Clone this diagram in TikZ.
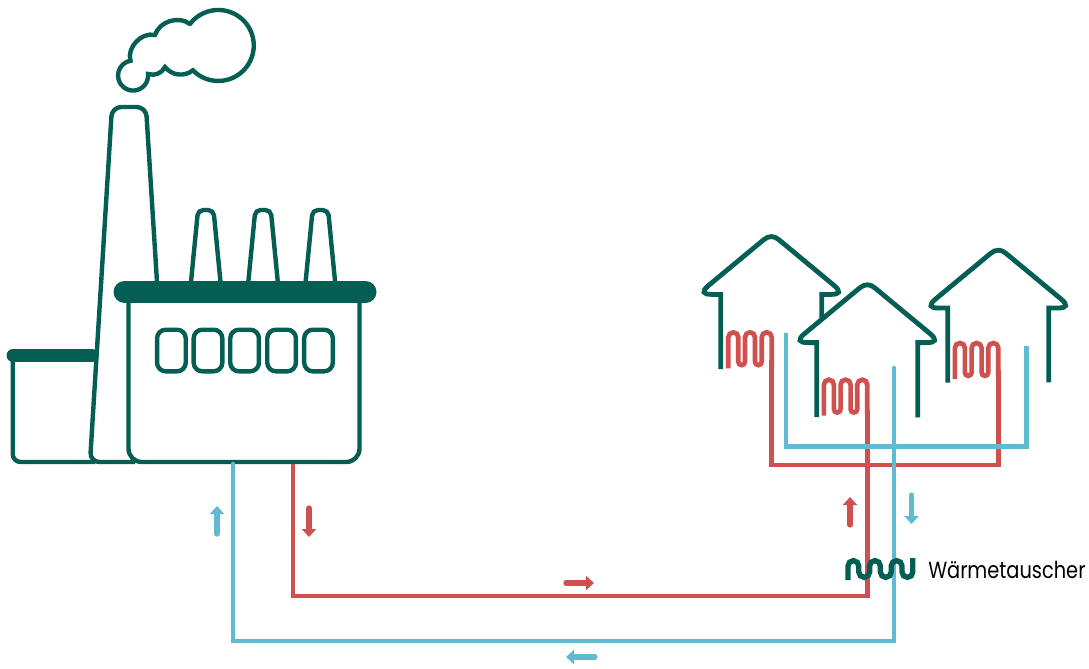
\documentclass[tikz,border=0pt]{standalone}
\usepackage{fontspec}
\usepackage{tikz}
\usetikzlibrary{arrows.meta}
\setmainfont{Poppins}[FakeStretch=0.83]
\definecolor{plantgreen}{HTML}{045E54}
\definecolor{hotred}{HTML}{D04F4F}
\definecolor{coldblue}{HTML}{5FBAD2}
\tikzset{
    outline/.style={draw=plantgreen, line width=3.3pt},
    hotpipe/.style={draw=hotred, line width=3.5pt},
    coldpipe/.style={draw=coldblue, line width=3.5pt},
    flow/.style={line width=3.9pt, line cap=round, -{Triangle[width=10.5pt,length=6pt]}},
}
\begin{document}
\begin{tikzpicture}[x=0.75pt, y=-0.75pt]
    \useasboundingbox (0,0) rectangle (1089,668);
    % Smoke
    \draw[outline, line cap=round] (190,24) arc[start angle=-142.8, end angle=135.6, radius=35.5]
        to[bend left=45] (165,67) to[bend left=40] (148,74)
        arc[start angle=-6, end angle=260, radius=15]
        to[bend left=60] (155,35) to[bend left=55] (190,24);
    % Tall chimney
    \draw[outline, rounded corners=7pt] (157,282) -- (146,107) -- (112,107) -- (90,462) -- (135,462);
    % Small stacks
    \foreach \dx in {0,57.3,114.6}
        \draw[outline, rounded corners=4pt] (191+\dx,282) -- (198+\dx,210) -- (213.5+\dx,210) -- (220.5+\dx,282);
    % Side hall
    \draw[outline, rounded corners=6pt] (12.7,355) -- (12.7,462) -- (95,462);
    \draw[plantgreen, line width=9.75pt, line cap=round] (13,355.5) -- (92,355.5);
    % Main hall
    \draw[outline, rounded corners=10pt] (128.5,292) -- (128.5,462) -- (359.5,462) -- (359.5,292);
    \draw[plantgreen, line width=16.5pt, line cap=round] (124.5,292) -- (365.5,292);
    \foreach \i/\wx in {1/171.4,2/208,3/244.6,4/281.6,5/318.5}
        \node[outline, minimum width=21.5pt, minimum height=31.2pt, rounded corners=6.5pt] (window\i) at (\wx,350.5) {};
    % Houses
    \foreach \hx/\hy/\rb in {771.3/233.4/84.6,867.3/281.6/135.7,998.3/247/135.3}
        \draw[outline, line width=3.6pt] (\hx-50.5,\hy+135.6) -- (\hx-50.5,\hy+61) -- (\hx-59.5,\hy+61)
            .. controls (\hx-68.8,\hy+61) and (\hx-69.9,\hy+58) .. (\hx-62.7,\hy+52) -- (\hx-7.7,\hy+6.4)
            .. controls (\hx-2.6,\hy+2.1) and (\hx+2.6,\hy+2.1) .. (\hx+7.7,\hy+6.4) -- (\hx+62.7,\hy+52)
            .. controls (\hx+69.9,\hy+58) and (\hx+68.8,\hy+61) .. (\hx+59.5,\hy+61) -- (\hx+50.5,\hy+61) -- (\hx+50.5,\hy+\rb);
    % Radiators
    \foreach \rx/\ry in {728.3/368.3,823.9/415.7,954.9/379}
        \draw[hotpipe] (\rx,\ry) -- ++(0,-31) arc[start angle=180, end angle=360, radius=5]
            -- ++(0,24.5) arc[start angle=180, end angle=0, radius=3.35]
            -- ++(0,-24.5) arc[start angle=180, end angle=360, radius=5]
            -- ++(0,24.5) arc[start angle=180, end angle=0, radius=3.35]
            -- ++(0,-24.5) arc[start angle=180, end angle=360, radius=5] -- ++(0,30);
    % Red network
    \draw[hotpipe] (771.7,360) -- (771.7,465) -- (998.3,465) -- (998.3,370);
    \draw[hotpipe] (293,464) -- (293,596) -- (867.3,596) -- (867.3,410);
    % Blue network
    \draw[coldpipe] (786,333) -- (786,446.7) -- (1026.7,446.7) -- (1026.7,345.7);
    \draw[coldpipe, line cap=round] (233,464) -- (233,641) -- (894,641) -- (894,368);
    % Flow arrows
    \draw[flow, coldblue] (217,534) -- (217,506);
    \draw[flow, hotred] (309,508) -- (309,537);
    \draw[flow, hotred] (566,583) -- (594,583);
    \draw[flow, coldblue] (595,657) -- (566,657);
    \draw[flow, hotred] (850,525) -- (850,497);
    \draw[flow, coldblue] (911.5,495) -- (911.5,524);
    % Heat exchanger
    \draw[plantgreen, line width=4pt] (848,580) -- (848,566) arc[start angle=180, end angle=360, radius=5.4]
        -- ++(0,6) arc[start angle=180, end angle=0, radius=5.4]
        -- ++(0,-6) arc[start angle=180, end angle=360, radius=5.4]
        -- ++(0,6) arc[start angle=180, end angle=0, radius=5.4]
        -- ++(0,-6) arc[start angle=180, end angle=360, radius=5.4]
        -- ++(0,6) arc[start angle=180, end angle=0, radius=5.4] -- ++(0,-14);
    \node[anchor=base west, font=\fontsize{17.5pt}{20pt}\selectfont, inner sep=0pt] (exchanger) at (928,578) {Wärmetauscher};
\end{tikzpicture}
\end{document}
